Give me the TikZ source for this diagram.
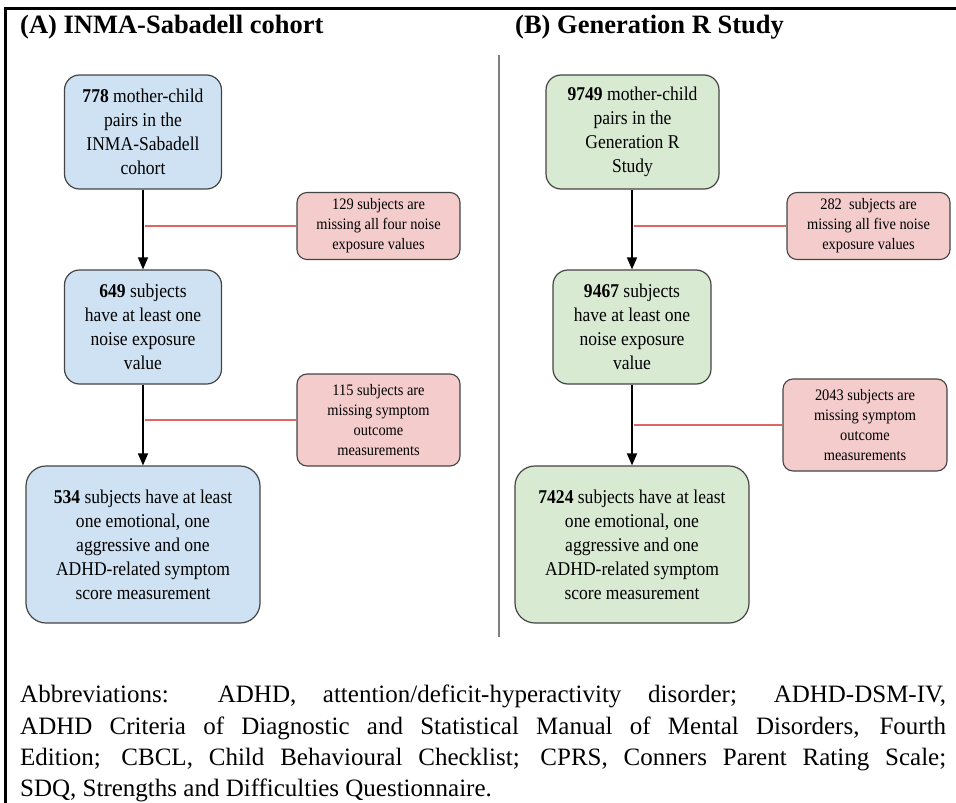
\documentclass[tikz,border=0pt]{standalone}
\usepackage{fontspec}
\setmainfont{Liberation Serif}[BoldFont={Liberation Serif Bold}]
\newfontfamily\serifmain{Liberation Serif}[BoldFont={Liberation Serif Bold}]
\newfontfamily\boxfont{Liberation Serif}[FakeStretch=0.9,BoldFont={Liberation Serif Bold},BoldFeatures={FakeStretch=0.9}]
\usetikzlibrary{arrows.meta,calc}
\definecolor{bluefill}{HTML}{CFE2F3}
\definecolor{greenfill}{HTML}{D9EAD3}
\definecolor{pinkfill}{HTML}{F4CCCC}
\definecolor{boxdraw}{HTML}{444444}
\definecolor{redline}{HTML}{E06666}
\definecolor{divgray}{HTML}{808080}
\tikzset{
  flowbox/.style={draw=boxdraw, line width=1.2pt, rounded corners=15pt, align=center, inner sep=0pt,
    font=\boxfont\fontsize{19.5}{24}\selectfont},
  bluebox/.style={flowbox, fill=bluefill},
  greenbox/.style={flowbox, fill=greenfill},
  bigbox/.style={rounded corners=20pt},
  exclbox/.style={draw=boxdraw, line width=1.1pt, rounded corners=10pt, fill=pinkfill, align=center, inner sep=0pt,
    font=\boxfont\fontsize{16}{20}\selectfont},
  flowarrow/.style={line width=1.5pt, -{Triangle[length=12pt,width=10pt]}},
  exclline/.style={draw=redline, line width=1.8pt},
  titletext/.style={anchor=base west, inner sep=0pt, font=\serifmain\bfseries\fontsize{26.5}{30}\selectfont},
}
\begin{document}
\begin{tikzpicture}[x=1pt,y=-1pt]
\useasboundingbox (0,0) rectangle (956,803);
% frame
\draw[line width=2.2pt] (5.5,803) -- (5.5,8.5) -- (956,8.5);
% titles
\node[titletext] (tA) at (20,33) {(A) INMA-Sabadell cohort};
\node[titletext] (tB) at (515,33) {(B) Generation R Study};
% divider
\coordinate (dtop) at (499,55);
\coordinate (dbot) at (499,637);
\draw[divgray, line width=1.6pt] (dtop) -- (dbot);
% cohort A
\node[bluebox, minimum width=157pt, minimum height=114pt] (A1) at (143,132)
  {\textbf{778} mother-child\\pairs in the\\INMA-Sabadell\\cohort};
\node[bluebox, minimum width=157pt, minimum height=114pt] (A2) at (143,327)
  {\textbf{649} subjects\\have at least one\\noise exposure\\value};
\node[bluebox, bigbox, minimum width=234pt, minimum height=157pt] (A3) at (143,544.5)
  {\textbf{534} subjects have at least\\one emotional, one\\aggressive and one\\ADHD-related symptom\\score measurement};
\node[exclbox, minimum width=163pt, minimum height=67pt] (pA1) at (378.5,226)
  {129 subjects are\\missing all four noise\\exposure values};
\node[exclbox, minimum width=163pt, minimum height=92pt] (pA2) at (378.5,420)
  {115 subjects are\\missing symptom\\outcome\\measurements};
\draw[flowarrow] (A1) -- (A2);
\draw[flowarrow] (A2) -- (A3);
\draw[exclline] (pA1.west) -- ($(pA1.west -| A1.south)+(2,0)$);
\draw[exclline] (pA2.west) -- ($(pA2.west -| A2.south)+(2,0)$);
% cohort B
\node[greenbox, minimum width=173pt, minimum height=114pt] (B1) at (632.5,132)
  {\textbf{9749} mother-child\\pairs in the\\Generation R\\Study};
\node[greenbox, minimum width=158pt, minimum height=114pt] (B2) at (632,327)
  {\textbf{9467} subjects\\have at least one\\noise exposure\\value};
\node[greenbox, bigbox, minimum width=234pt, minimum height=157pt] (B3) at (632,544.5)
  {\textbf{7424} subjects have at least\\one emotional, one\\aggressive and one\\ADHD-related symptom\\score measurement};
\node[exclbox, minimum width=163pt, minimum height=67pt] (pB1) at (868.5,226)
  {282\ \ subjects are\\missing all five noise\\exposure values};
\node[exclbox, minimum width=164pt, minimum height=92pt] (pB2) at (865,425)
  {2043 subjects are\\missing symptom\\outcome\\measurements};
\draw[flowarrow] (B1.south -| B2) -- (B2);
\draw[flowarrow] (B2) -- (B3);
\draw[exclline] (pB1.west) -- ($(pB1.west -| B2.south)+(2,0)$);
\draw[exclline] (pB2.west) -- ($(pB2.west -| B2.south)+(2,0)$);
% abbreviations
\node[anchor=north west, inner sep=0pt, text width=926pt, align=justify,
  font=\serifmain\fontsize{25}{31.3}\selectfont] (abbr) at (20,685)
  {\hyphenpenalty=10000 Abbreviations: ADHD, attention/deficit-hyperactivity disorder; ADHD-DSM-IV,\linebreak
   ADHD Criteria of Diagnostic and Statistical Manual of Mental Disorders, Fourth\linebreak
   Edition; CBCL, Child Behavioural Checklist; CPRS, Conners Parent Rating Scale;\linebreak
   SDQ, Strengths and Difficulties Questionnaire.};
\end{tikzpicture}
\end{document}
